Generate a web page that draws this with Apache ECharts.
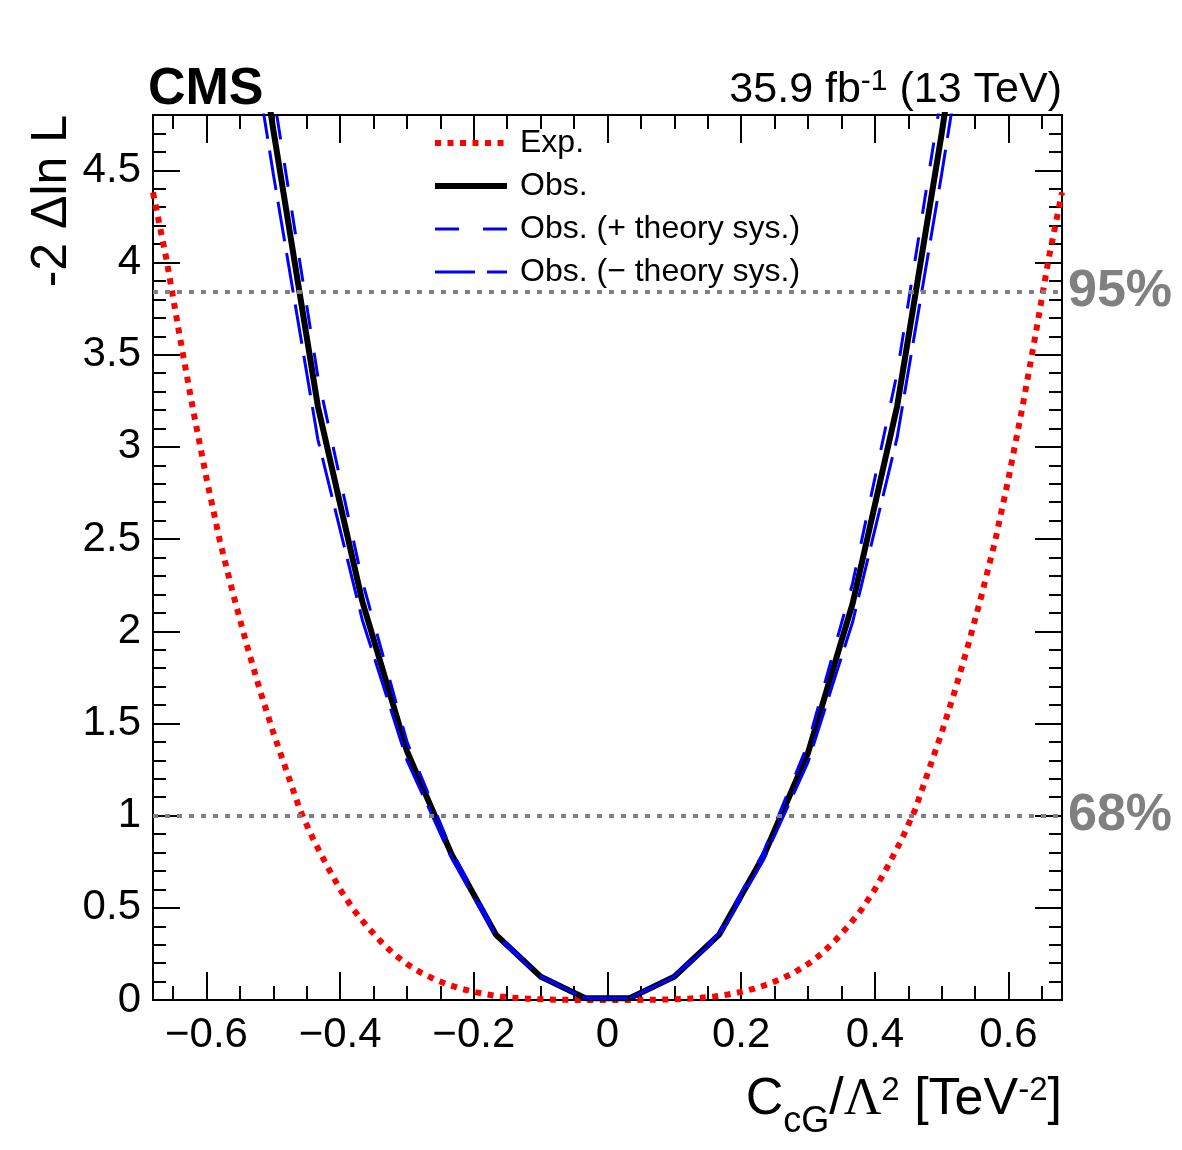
<!DOCTYPE html>
<html>
<head>
<meta charset="utf-8">
<script src="https://cdn.jsdelivr.net/npm/echarts@6/dist/echarts.min.js"></script>
<style>
  html, body { margin: 0; padding: 0; background: #fff; }
  #chart { width: 1182px; height: 1150px; }
</style>
</head>
<body>
<div id="chart"></div>
<script>
// likelihood scan, C_cG / Lambda^2
const FONT = '"Liberation Sans", Arial, Helvetica, sans-serif'

// expected curve (smooth, dense scan)
const expX = [-0.68, -0.66, -0.64, -0.62, -0.60, -0.58, -0.56, -0.54, -0.52, -0.50, -0.48, -0.46, -0.44, -0.42, -0.40,
  -0.38, -0.36, -0.34, -0.32, -0.30, -0.28, -0.26, -0.24, -0.22, -0.20, -0.18, -0.16, -0.14, -0.12, -0.10, -0.08,
  -0.06, -0.04, -0.02, 0, 0.02, 0.04, 0.06, 0.08, 0.10, 0.12, 0.14, 0.16, 0.18, 0.20, 0.22, 0.24, 0.26, 0.28, 0.30,
  0.32, 0.34, 0.36, 0.38, 0.40, 0.42, 0.44, 0.46, 0.48, 0.50, 0.52, 0.54, 0.56, 0.58, 0.60, 0.62, 0.64, 0.66, 0.68]
const expY = [4.38, 4.02, 3.60, 3.20, 2.83, 2.49, 2.20, 1.93, 1.68, 1.45, 1.24, 1.03, 0.87, 0.73, 0.60,
  0.49, 0.40, 0.32, 0.25, 0.195, 0.15, 0.115, 0.085, 0.062, 0.044, 0.03, 0.019, 0.012, 0.007, 0.004, 0.002,
  0.001, 0, 0, 0, 0, 0, 0.001, 0.002, 0.004, 0.007, 0.012, 0.019, 0.03, 0.044, 0.062, 0.085, 0.115, 0.15, 0.195,
  0.25, 0.32, 0.40, 0.49, 0.60, 0.73, 0.87, 1.03, 1.24, 1.45, 1.68, 1.93, 2.20, 2.49, 2.83, 3.20, 3.60, 4.02, 4.38]

// observed scan points (coarse grid)
const obsX = [-0.5667, -0.5, -0.4333, -0.3667, -0.3, -0.2333, -0.1667, -0.1, -0.0333,
  0.0333, 0.1, 0.1667, 0.2333, 0.3, 0.3667, 0.4333, 0.5, 0.5667]
const obsY = [6.3, 4.72, 3.22, 2.16, 1.35, 0.79, 0.353, 0.127, 0.01,
  0.01, 0.127, 0.353, 0.78, 1.34, 2.15, 3.22, 4.70, 6.3]
const obsPlusY = [6.6, 4.92, 3.38, 2.27, 1.40, 0.81, 0.36, 0.13, 0.01,
  0.01, 0.13, 0.36, 0.80, 1.39, 2.26, 3.40, 4.92, 6.6]
const obsMinusY = [6.0, 4.48, 3.04, 2.06, 1.30, 0.77, 0.345, 0.125, 0.01,
  0.01, 0.125, 0.345, 0.76, 1.29, 2.05, 3.05, 4.48, 6.0]

// confidence levels
const clLevels = [1, 3.84]
const clLabels = ['68%', '95%']

// ticks
const xMajor = [-0.6, -0.4, -0.2, 0, 0.2, 0.4, 0.6]
const xMinor = [-0.65, -0.55, -0.5, -0.45, -0.35, -0.3, -0.25, -0.15, -0.1, -0.05,
  0.05, 0.1, 0.15, 0.25, 0.3, 0.35, 0.45, 0.5, 0.55, 0.65]
const yMajor = [0, 0.5, 1, 1.5, 2, 2.5, 3, 3.5, 4, 4.5]
const yMinor = [0.1, 0.2, 0.3, 0.4, 0.6, 0.7, 0.8, 0.9, 1.1, 1.2, 1.3, 1.4, 1.6, 1.7, 1.8, 1.9,
  2.1, 2.2, 2.3, 2.4, 2.6, 2.7, 2.8, 2.9, 3.1, 3.2, 3.3, 3.4, 3.6, 3.7, 3.8, 3.9,
  4.1, 4.2, 4.3, 4.4, 4.6, 4.7]

const zip = (xs, ys) => xs.map((x, i) => [x, ys[i]])
const fmtX = v => (v < 0 ? '\u2212' + Math.abs(v) : String(v))

const chart = echarts.init(document.getElementById('chart'), null, {renderer: 'canvas'})

// one axis builder for the frame: major / minor ticks on every side
function xAx(pos, ticks, len, labels) {
  return {
    type: 'value', position: pos, min: -0.68, max: 0.68,
    axisLine: {show: true, onZero: false, lineStyle: {color: '#000', width: 2}},
    axisTick: {show: true, inside: true, length: len, customValues: ticks, lineStyle: {color: '#000', width: 2}},
    axisLabel: labels ? {show: true, customValues: ticks, formatter: fmtX, fontSize: 42, fontFamily: FONT,
      color: '#000', margin: 14} : {show: false},
    splitLine: {show: false}
  }
}
function yAx(pos, ticks, len, labels) {
  return {
    type: 'value', position: pos, min: 0, max: 4.8,
    axisLine: {show: true, onZero: false, lineStyle: {color: '#000', width: 2}},
    axisTick: {show: true, inside: true, length: len, customValues: ticks, lineStyle: {color: '#000', width: 2}},
    axisLabel: labels ? {show: true, customValues: ticks, fontSize: 42, fontFamily: FONT,
      color: '#000', margin: 12} : {show: false},
    splitLine: {show: false}
  }
}

const option = {
  animation: false,
  backgroundColor: '#fff',
  grid: {left: 153, right: 120, top: 115, bottom: 150},
  xAxis: [
    xAx('bottom', xMajor, 28, true),
    xAx('bottom', xMinor, 14, false),
    xAx('top', xMajor, 28, false),
    xAx('top', xMinor, 14, false)
  ],
  yAxis: [
    yAx('left', yMajor, 27, true),
    yAx('left', yMinor, 13, false),
    yAx('right', yMajor, 27, false),
    yAx('right', yMinor, 13, false)
  ],
  legend: {
    orient: 'vertical', left: 427, top: 122,
    itemWidth: 72, itemHeight: 18, itemGap: 11,
    itemStyle: {opacity: 0},
    lineStyle: {width: 'inherit'},
    textStyle: {fontSize: 32, fontFamily: FONT, color: '#000', padding: [0, 0, 0, 8]},
    data: ['Exp.', 'Obs.', 'Obs. (+ theory sys.)', 'Obs. (\u2212 theory sys.)']
  },
  series: [
    {
      name: 'CL', type: 'line', data: [], silent: true,
      markLine: {
        silent: true, symbol: ['none', 'none'],
        lineStyle: {color: '#808080', width: 4, type: [5, 7]},
        label: {position: 'end', distance: 6, fontSize: 52, fontWeight: 'bold', fontFamily: FONT, color: '#808080'},
        data: clLevels.map((v, i) => ({yAxis: v, label: {formatter: clLabels[i]}}))
      }
    },
    {
      name: 'Exp.', type: 'line', data: zip(expX, expY), showSymbol: false, symbol: 'none',
      lineStyle: {color: '#ff0000', width: 6, type: [6, 6.5]}, itemStyle: {color: '#ff0000'}
    },
    {
      name: 'Obs.', type: 'line', data: zip(obsX, obsY), showSymbol: false, symbol: 'none',
      lineStyle: {color: '#000', width: 6}, itemStyle: {color: '#000'}
    },
    {
      name: 'Obs. (+ theory sys.)', type: 'line', data: zip(obsX, obsPlusY), showSymbol: false, symbol: 'none',
      lineStyle: {color: '#0000ff', width: 3, type: [24, 24]}, itemStyle: {color: '#0000ff'}
    },
    {
      name: 'Obs. (\u2212 theory sys.)', type: 'line', data: zip(obsX, obsMinusY), showSymbol: false, symbol: 'none',
      lineStyle: {color: '#0000ff', width: 3, type: [40, 12]}, itemStyle: {color: '#0000ff'}
    }
  ],
  graphic: [
    {
      type: 'text', x: 148, y: 90,
      style: {text: 'CMS', font: 'bold 52px ' + FONT, fill: '#000', align: 'left', verticalAlign: 'middle'}
    },
    {
      type: 'text', x: 1062, y: 90,
      style: {
        text: '{m|35.9 fb}{s|-1}{m| (13 TeV)}', align: 'right', verticalAlign: 'middle',
        rich: {
          m: {fontSize: 43, fontFamily: FONT, fill: '#000', lineHeight: 47},
          s: {fontSize: 30, fontFamily: FONT, fill: '#000', lineHeight: 30, verticalAlign: 'top'}
        }
      }
    },
    {
      type: 'text', x: 52, y: 115, rotation: Math.PI / 2,
      style: {text: '-2 \u0394ln L', font: '50px ' + FONT, fill: '#000', align: 'right', verticalAlign: 'middle'}
    },
    {
      // x title: main tokens hang from the top of the line, the subscript sits at its bottom
      type: 'text', x: 1062, y: 1107,
      style: {
        text: '{m|C}{sub|cG}{m|/}{g|\u039b}{sup|2}{m| [TeV}{sup|-2}{m|]}', align: 'right', verticalAlign: 'middle',
        rich: {
          m: {fontSize: 52, fontFamily: FONT, fill: '#000', lineHeight: 50, verticalAlign: 'top'},
          g: {fontSize: 52, fontFamily: '"Liberation Serif", serif', fill: '#000', lineHeight: 50, verticalAlign: 'top'},
          sub: {fontSize: 36, fontFamily: FONT, fill: '#000', lineHeight: 66, verticalAlign: 'bottom'},
          sup: {fontSize: 33, fontFamily: FONT, fill: '#000', lineHeight: 34, verticalAlign: 'top'}
        }
      }
    }
  ]
}

chart.setOption(option)
</script>
</body>
</html>
